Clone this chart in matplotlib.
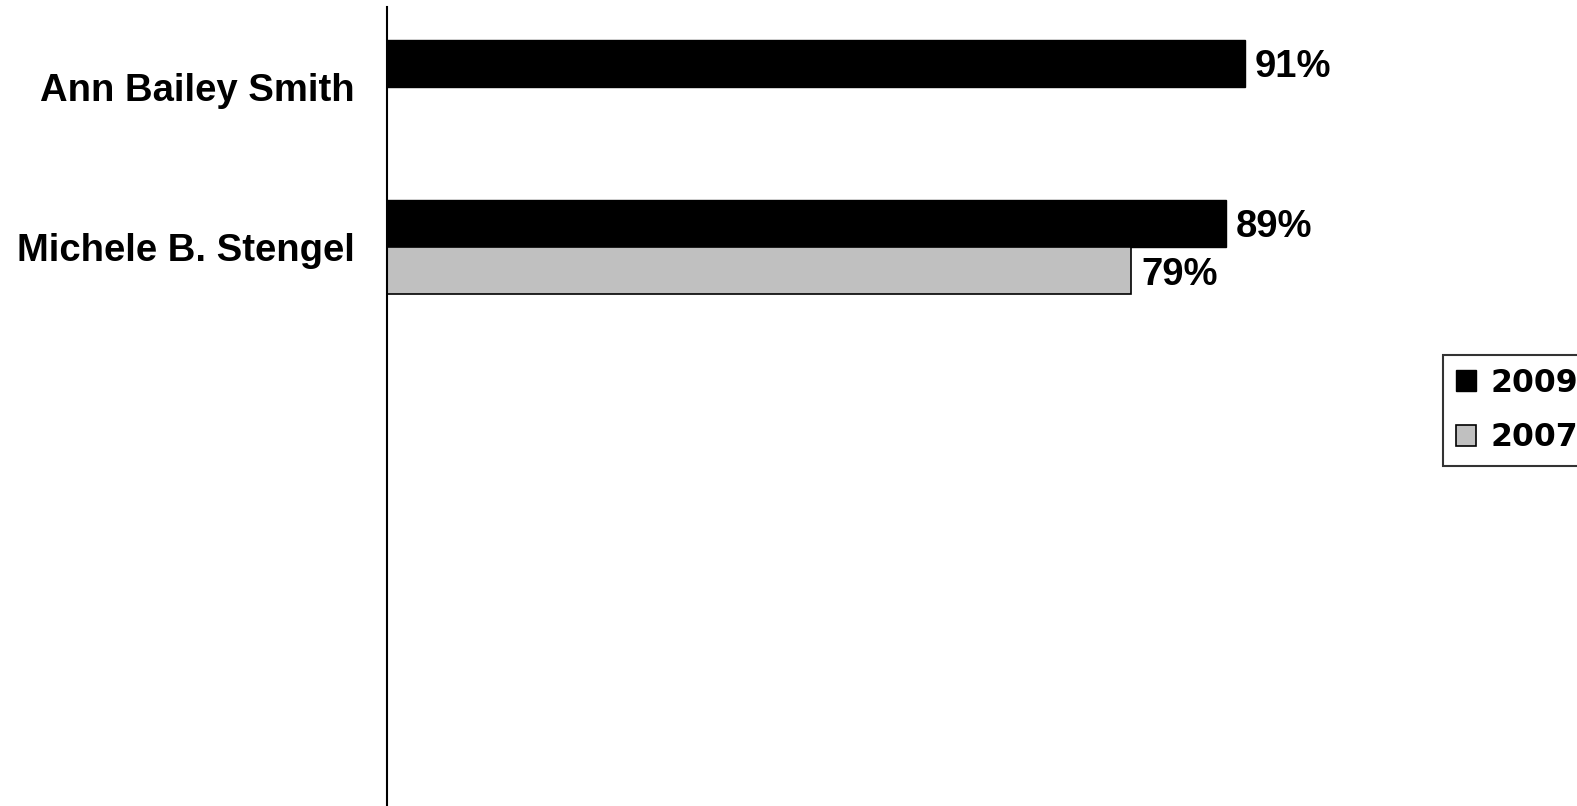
import numpy as np
import matplotlib
matplotlib.use("Agg")
import matplotlib.pyplot as plt

# data
names = ["Ann Bailey Smith", "Michele B. Stengel"]
years = ["2009", "2007"]
pct_2009 = [91, 89]
pct_2007 = [np.nan, 79]

plt.rcParams['font.family'] = ['Liberation Sans', 'DejaVu Sans']
plt.rcParams['font.weight'] = 'bold'

W, H = 1577, 806
fig = plt.figure(figsize=(W / 100, H / 100), dpi=100)
ax = fig.add_axes([386.5 / W, 1 - 808 / H, 943 / W, 801 / H])

y = np.arange(len(names))
bh = 0.294
b1 = ax.barh(y - bh / 2, pct_2009, height=bh, color='black', edgecolor='black',
             linewidth=1, label=years[0])
b2 = ax.barh(y + bh / 2, pct_2007, height=bh, color='#c0c0c0', edgecolor='black',
             linewidth=1.2, label=years[1])

fs = 27.5
# value labels, digits centred on the bar
for bars, vals in [(b1, pct_2009), (b2, pct_2007)]:
    for bar, v in zip(bars, vals):
        if np.isnan(v):
            continue
        ax.annotate(f"{v:.0f}%", (v, bar.get_y() + bar.get_height() / 2),
                    xytext=(7, -0.716 * fs / 2), textcoords='offset points',
                    ha='left', va='baseline', fontsize=fs, fontweight='bold')

ax.set_xlim(0, 100)
ax.set_ylim(4.5, -0.5)
ax.set_yticks(y)
ax.set_yticklabels(names, fontsize=fs, fontweight='bold')
ax.tick_params(axis='y', length=0, pad=23)
ax.set_xticks([])
for s in ['top', 'right', 'bottom']:
    ax.spines[s].set_visible(False)
ax.spines['left'].set_linewidth(1.5)

leg = fig.legend(handles=[b1, b2], labels=years,
                 loc='upper left', bbox_to_anchor=(1443 / W, 1 - 355 / H),
                 bbox_transform=fig.transFigure, borderaxespad=0,
                 prop={'family': 'DejaVu Sans', 'weight': 'bold', 'size': 22.7},
                 handlelength=0.64, handleheight=0.64, handletextpad=0.48,
                 labelspacing=0.75, borderpad=0.4, frameon=True, fancybox=False)
leg.get_frame().set_edgecolor('black')
leg.get_frame().set_linewidth(1.5)

fig.savefig("out.png", dpi=100)
